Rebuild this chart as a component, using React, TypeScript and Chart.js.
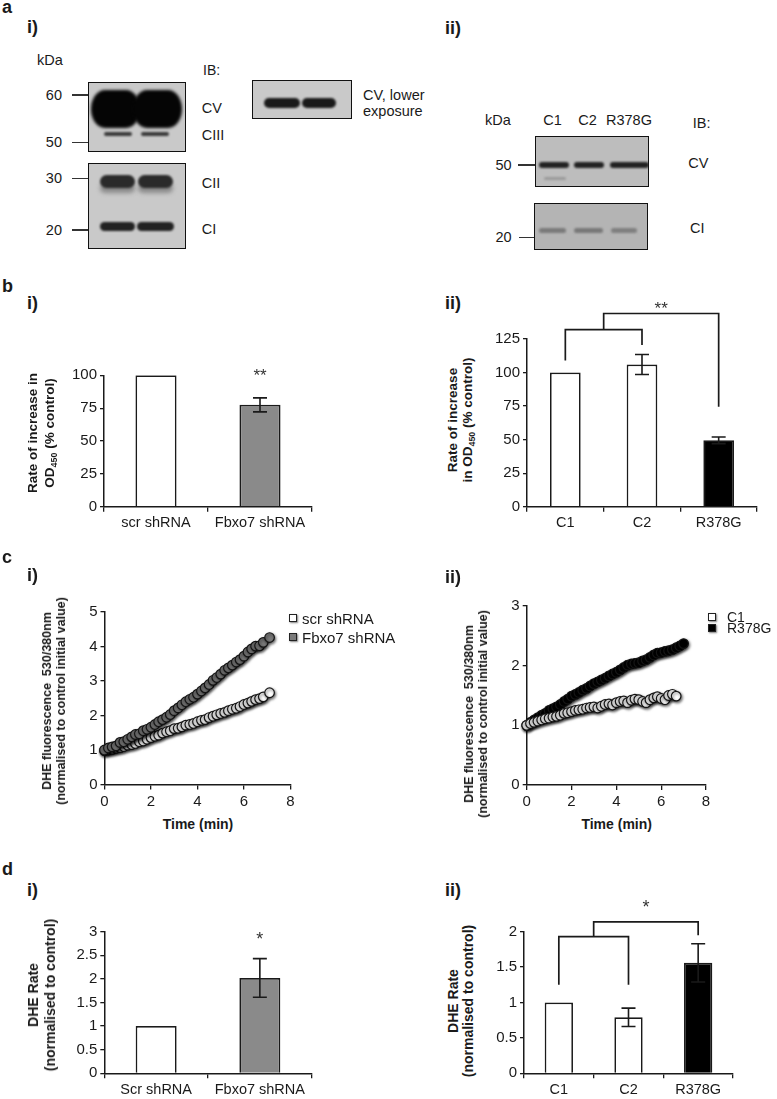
import React, { useEffect, useRef } from 'react';
import { Chart, registerables } from 'chart.js';

Chart.register(...registerables);

const FONT = '"Liberation Sans", Arial, Helvetica, sans-serif';
const INK = '#1a1a1a';

// ---------------- data ----------------
const B1_CATS = ['scr shRNA', 'Fbxo7 shRNA'];
const B1_VALUES = [100, 77.5];
const B1_ERRORS = [0, 5.3];
const B1_COLORS = ['#ffffff', '#8a8a8a'];

const B2_CATS = ['C1', 'C2', 'R378G'];
const B2_VALUES = [100, 106, 49.5];
const B2_ERRORS = [0, 7.5, 2.5];
const B2_COLORS = ['#ffffff', '#ffffff', '#000000'];

const D1_CATS = ['Scr shRNA', 'Fbxo7 shRNA'];
const D1_VALUES = [1, 2.02];
const D1_ERRORS = [0, 0.41];
const D1_COLORS = ['#ffffff', '#8a8a8a'];

const D2_CATS = ['C1', 'C2', 'R378G'];
const D2_VALUES = [1, 0.79, 1.56];
const D2_ERRORS = [0, 0.13, 0.27];
const D2_COLORS = ['#ffffff', '#ffffff', '#000000'];

const CI_TIME = [0, 0.17, 0.33, 0.5, 0.67, 0.83, 1.0, 1.17, 1.33, 1.5, 1.67, 1.83, 2.0, 2.17, 2.33, 2.5, 2.67, 2.83, 3.0, 3.17, 3.33, 3.5, 3.67, 3.83, 4.0, 4.17, 4.33, 4.5, 4.67, 4.83, 5.0, 5.17, 5.33, 5.5, 5.67, 5.83, 6.0, 6.17, 6.33, 6.5, 6.67, 6.83, 7.1];
const CI_SCR = [0.98, 1.0, 1.02, 1.05, 1.07, 1.1, 1.14, 1.16, 1.19, 1.24, 1.26, 1.31, 1.36, 1.4, 1.43, 1.49, 1.53, 1.56, 1.62, 1.63, 1.67, 1.72, 1.74, 1.77, 1.82, 1.86, 1.88, 1.94, 1.98, 2.02, 2.06, 2.09, 2.14, 2.18, 2.21, 2.26, 2.32, 2.36, 2.41, 2.46, 2.49, 2.54, 2.66];
const CI_FBXO7 = [1.0, 1.06, 1.09, 1.12, 1.22, 1.24, 1.31, 1.38, 1.45, 1.47, 1.56, 1.6, 1.66, 1.74, 1.82, 1.88, 1.95, 2.03, 2.14, 2.22, 2.31, 2.4, 2.47, 2.53, 2.62, 2.71, 2.8, 2.9, 3.02, 3.1, 3.2, 3.31, 3.38, 3.46, 3.55, 3.62, 3.72, 3.84, 3.93, 4.01, 4.02, 4.12, 4.26];

const CII_TIME = [0, 0.17, 0.33, 0.5, 0.67, 0.83, 1.0, 1.17, 1.33, 1.5, 1.67, 1.83, 2.0, 2.17, 2.33, 2.5, 2.67, 2.83, 3.0, 3.17, 3.33, 3.5, 3.67, 3.83, 4.0, 4.17, 4.33, 4.5, 4.67, 4.83, 5.0, 5.17, 5.33, 5.5, 5.67, 5.83, 6.0, 6.17, 6.33, 6.5, 6.67, 6.83, 7.0];
const CII_C1 = [1.0, 1.03, 1.05, 1.07, 1.09, 1.11, 1.12, 1.14, 1.15, 1.17, 1.2, 1.21, 1.23, 1.25, 1.26, 1.27, 1.29, 1.3, 1.31, 1.29, 1.32, 1.35, 1.36, 1.34, 1.38, 1.4, 1.41, 1.38, 1.42, 1.44, 1.43, 1.4, 1.38, 1.43, 1.46, 1.48, 1.45, 1.43, 1.5, 1.52, 1.49];
const CII_R378G = [1.0, 1.05, 1.09, 1.13, 1.17, 1.2, 1.25, 1.28, 1.31, 1.35, 1.4, 1.44, 1.49, 1.52, 1.55, 1.59, 1.62, 1.66, 1.7, 1.73, 1.76, 1.79, 1.83, 1.86, 1.89, 1.93, 1.97, 2.01, 2.03, 2.04, 2.05, 2.08, 2.1, 2.14, 2.18, 2.21, 2.22, 2.24, 2.25, 2.27, 2.3, 2.33, 2.37];

// bracket paths as [category index, value]
const B2_BRACKETS = [
  [[0, 109], [0, 132], [1, 132], [1, 120.5]],
  [[0.5, 132], [0.5, 144], [2, 144], [2, 74.5]],
];
const D2_BRACKETS = [
  [[0, 1.25], [0, 1.93], [1, 1.93], [1, 1.25]],
  [[0.5, 1.93], [0.5, 2.14], [2, 2.14], [2, 1.95]],
];

// ---------------- helpers ----------------
type Rect = { left: number; top: number; width: number; height: number; yw: number; xh: number; pad: { left: number; top: number; right: number; bottom: number } };

function frame(x0: number, x1: number, yTop: number, yBot: number, yw = 46, pt = 12, pr = 14, xh = 28): Rect {
  const left = Math.floor(x0) - yw;
  const top = Math.floor(yTop) - pt;
  const width = Math.ceil(x1) + pr - left;
  const height = Math.ceil(yBot) + xh - top;
  return {
    left, top, width, height, yw, xh,
    pad: { left: x0 - yw - left, top: yTop - top, right: width - (x1 - left), bottom: height - xh - (yBot - top) },
  };
}

const errorBarPlugin = (errors: number[]) => ({
  id: 'errorBars',
  afterDatasetsDraw(chart: any) {
    const { ctx } = chart;
    const meta = chart.getDatasetMeta(0);
    const y = chart.scales.y;
    const vals = chart.data.datasets[0].data as number[];
    ctx.save();
    ctx.strokeStyle = INK;
    ctx.lineWidth = 1.6;
    meta.data.forEach((bar: any, i: number) => {
      const e = errors[i];
      if (!e) return;
      const yt = y.getPixelForValue(vals[i] + e);
      const yb = y.getPixelForValue(vals[i] - e);
      const x = bar.x;
      const c = 7;
      ctx.beginPath();
      ctx.moveTo(x, yt); ctx.lineTo(x, yb);
      ctx.moveTo(x - c, yt); ctx.lineTo(x + c, yt);
      ctx.moveTo(x - c, yb); ctx.lineTo(x + c, yb);
      ctx.stroke();
    });
    ctx.restore();
  },
});

type Ann = { x: number; y: number; t: string; s: number };
const annotationPlugin = (lines: number[][][], texts: Ann[]) => ({
  id: 'annot',
  afterDatasetsDraw(chart: any) {
    const { ctx } = chart;
    const { x, y } = chart.scales;
    ctx.save();
    ctx.strokeStyle = INK;
    ctx.lineWidth = 1.7;
    lines.forEach((pts) => {
      ctx.beginPath();
      pts.forEach(([cx, vy], i) => {
        const px = x.getPixelForValue(cx);
        const py = y.getPixelForValue(vy);
        if (i === 0) ctx.moveTo(px, py); else ctx.lineTo(px, py);
      });
      ctx.stroke();
    });
    ctx.fillStyle = '#333';
    ctx.textAlign = 'center';
    ctx.textBaseline = 'middle';
    texts.forEach((t) => {
      ctx.font = `${t.s}px ${FONT}`;
      ctx.fillText(t.t, x.getPixelForValue(t.x), y.getPixelForValue(t.y));
    });
    ctx.restore();
  },
});

const shadowPlugin = {
  id: 'ptShadow',
  beforeDatasetsDraw(chart: any) {
    const c = chart.ctx;
    c.save();
    c.shadowColor = 'rgba(0,0,0,0.6)';
    c.shadowBlur = 3;
    c.shadowOffsetX = 1;
    c.shadowOffsetY = 1.5;
  },
  afterDatasetsDraw(chart: any) {
    chart.ctx.restore();
  },
};

const tickFont = (s: number) => ({ family: FONT, size: s });
const plainNum = (v: any) => `${+v}`;

function yAxis(rect: Rect, max: number, step: number, fs = 15) {
  return {
    min: 0,
    max,
    ticks: { stepSize: step, font: tickFont(fs), color: INK, padding: 3, callback: plainNum },
    grid: { drawOnChartArea: false, drawTicks: true, tickLength: 4, color: INK, lineWidth: 1.3 },
    border: { color: INK, width: 1.5 },
    afterFit: (s: any) => { s.width = rect.yw; },
  };
}

function makeBar(p: {
  cats: string[]; values: number[]; errors: number[]; colors: string[];
  max: number; step: number; barPct: number; rect: Rect; lines?: number[][][]; texts?: Ann[];
}) {
  return {
    type: 'bar',
    data: {
      labels: p.cats,
      datasets: [{
        data: p.values, backgroundColor: p.colors, borderColor: INK, borderWidth: 1.7,
        borderSkipped: 'bottom', barPercentage: p.barPct, categoryPercentage: 1,
      }],
    },
    options: {
      responsive: false, maintainAspectRatio: false, animation: false, devicePixelRatio: 1,
      layout: { padding: p.rect.pad },
      plugins: { legend: { display: false }, tooltip: { enabled: false } },
      scales: {
        x: {
          type: 'category', offset: true,
          grid: { offset: true, drawOnChartArea: false, drawTicks: true, tickLength: 5, color: INK, lineWidth: 1.3 },
          border: { color: INK, width: 1.5 },
          ticks: { font: tickFont(14.5), color: INK, padding: 3, maxRotation: 0, autoSkip: false },
          afterFit: (s: any) => { s.height = p.rect.xh; },
        },
        y: yAxis(p.rect, p.max, p.step),
      },
    },
    plugins: [errorBarPlugin(p.errors), annotationPlugin(p.lines || [], p.texts || [])],
  };
}

const pts = (xs: number[], ys: number[]) => ys.map((v, i) => ({ x: xs[i], y: v }));

function makeScatter(p: { rect: Rect; max: number; sets: { data: { x: number; y: number }[]; fill: string }[] }) {
  return {
    type: 'scatter',
    data: {
      datasets: p.sets.map((s) => ({
        data: s.data, pointRadius: 4.8, pointBorderWidth: 1.2, pointBackgroundColor: s.fill,
        pointBorderColor: '#151515', showLine: false, clip: false,
      })),
    },
    options: {
      responsive: false, maintainAspectRatio: false, animation: false, devicePixelRatio: 1,
      layout: { padding: p.rect.pad },
      plugins: { legend: { display: false }, tooltip: { enabled: false } },
      scales: {
        x: {
          type: 'linear', min: 0, max: 8,
          ticks: { stepSize: 2, font: tickFont(15), color: INK, padding: 3, callback: plainNum },
          grid: { drawOnChartArea: false, drawTicks: true, tickLength: 5, color: INK, lineWidth: 1.3 },
          border: { color: INK, width: 1.5 },
          afterFit: (s: any) => { s.height = p.rect.xh; },
        },
        y: yAxis(p.rect, p.max, 1),
      },
    },
    plugins: [shadowPlugin],
  };
}

function ChartBox({ rect, config }: { rect: Rect; config: any }) {
  const ref = useRef<HTMLCanvasElement>(null);
  useEffect(() => {
    const chart = new Chart(ref.current as HTMLCanvasElement, config);
    return () => chart.destroy();
  }, []);
  return (
    <canvas
      ref={ref}
      width={rect.width}
      height={rect.height}
      style={{ position: 'absolute', left: rect.left, top: rect.top, width: rect.width, height: rect.height }}
    />
  );
}

function T({ x, y, s = 14, b = false, a = 'start', children }: any) {
  const tr = a === 'middle' ? 'translateX(-50%)' : a === 'end' ? 'translateX(-100%)' : undefined;
  return (
    <div style={{
      position: 'absolute', left: x, top: y - 0.8465 * s, fontSize: s, lineHeight: `${s}px`,
      fontWeight: b ? 700 : 400, whiteSpace: 'pre', transform: tr, color: INK,
    }}>{children}</div>
  );
}

function VT({ cx, cy, s, lh, lines }: any) {
  return (
    <div style={{
      position: 'absolute', left: cx, top: cy, transform: 'translate(-50%,-50%) rotate(-90deg)',
      fontSize: s, lineHeight: `${lh}px`, fontWeight: 700, whiteSpace: 'pre', textAlign: 'center', color: INK,
    }}>
      {lines.map((l: any, i: number) => <div key={i}>{l}</div>)}
    </div>
  );
}

const Sub = ({ children }: any) => (
  <span style={{ fontSize: '0.66em', position: 'relative', top: '0.35em' }}>{children}</span>
);

function HLine({ x1, x2, y }: any) {
  return <div style={{ position: 'absolute', left: x1, top: y - 0.75, width: x2 - x1, height: 1.5, background: '#333' }} />;
}

type BandSpec = [number, number, number, number, string, number];
function Blot({ x, y, w, h, bg, bands }: { x: number; y: number; w: number; h: number; bg: string; bands: BandSpec[] }) {
  const bw = 1.8;
  return (
    <div style={{
      position: 'absolute', left: x, top: y, width: w, height: h, boxSizing: 'border-box',
      border: `${bw}px solid #111`, background: bg, overflow: 'hidden',
    }}>
      {bands.map(([x1, x2, yc, bh, c, blur], i) => (
        <div key={i} style={{
          position: 'absolute', left: x1 - x - bw, top: yc - bh / 2 - y - bw, width: x2 - x1, height: bh,
          background: c, borderRadius: `${Math.min(bh / 2, 14)}px / ${bh / 2}px`, filter: `blur(${blur}px)`,
        }} />
      ))}
    </div>
  );
}

function Square({ cx, cy, fill }: any) {
  return <div style={{
    position: 'absolute', left: cx - 4, top: cy - 4, width: 8, height: 8, boxSizing: 'border-box',
    border: '1.2px solid #222', background: fill, boxShadow: '1px 1px 2px rgba(0,0,0,0.5)',
  }} />;
}

// ---------------- frames ----------------
const B1 = frame(104, 312, 375.3, 506.7, 46, 22, 12, 30);
const B2 = frame(527, 757, 339, 506.7, 46, 40, 14, 30);
const CI = frame(104.5, 290.5, 610, 784.5, 46, 10, 16, 30);
const CII = frame(526.7, 706, 604, 785, 46, 10, 16, 30);
const D1 = frame(104.3, 311.7, 931.7, 1073.3, 46, 30, 12, 25);
const D2 = frame(524, 733, 931.7, 1073.3, 46, 40, 14, 25);

export default function App() {
  const b1 = makeBar({ cats: B1_CATS, values: B1_VALUES, errors: B1_ERRORS, colors: B1_COLORS, max: 100, step: 25, barPct: 0.395, rect: B1, texts: [{ x: 1, y: 99.5, t: '**', s: 17 }] });
  const b2 = makeBar({ cats: B2_CATS, values: B2_VALUES, errors: B2_ERRORS, colors: B2_COLORS, max: 125, step: 25, barPct: 0.4, rect: B2, lines: B2_BRACKETS, texts: [{ x: 1.25, y: 146.8, t: '**', s: 17 }] });
  const d1 = makeBar({ cats: D1_CATS, values: D1_VALUES, errors: D1_ERRORS, colors: D1_COLORS, max: 3, step: 0.5, barPct: 0.395, rect: D1, texts: [{ x: 1, y: 2.82, t: '*', s: 18 }] });
  const d2 = makeBar({ cats: D2_CATS, values: D2_VALUES, errors: D2_ERRORS, colors: D2_COLORS, max: 2, step: 0.5, barPct: 0.406, rect: D2, lines: D2_BRACKETS, texts: [{ x: 1.25, y: 2.33, t: '*', s: 18 }] });
  const c1 = makeScatter({ rect: CI, max: 5, sets: [
    { data: pts(CI_TIME, CI_FBXO7), fill: '#7a7a7a' },
    { data: pts(CI_TIME, CI_SCR), fill: '#ffffff' },
  ] });
  const c2 = makeScatter({ rect: CII, max: 3, sets: [
    { data: pts(CII_TIME, CII_C1), fill: '#ffffff' },
    { data: pts(CII_TIME, CII_R378G), fill: '#000000' },
  ] });

  return (
    <div style={{ position: 'absolute', left: 0, top: 0, width: 777, height: 1099, background: '#fff', fontFamily: FONT, overflow: 'hidden' }}>
      {/* ---------- panel a ---------- */}
      <T x={2} y={13} s={18} b>a</T>
      <T x={27} y={33} s={18} b>i)</T>
      <T x={37} y={65} s={14.5}>kDa</T>
      <T x={203} y={75} s={14}>IB:</T>
      <T x={62} y={100} s={14.5} a="end">60</T>
      <T x={62} y={147.3} s={14.5} a="end">50</T>
      <T x={62} y={183.3} s={14.5} a="end">30</T>
      <T x={62} y={235} s={14.5} a="end">20</T>
      <HLine x1={71.7} x2={88} y={95} />
      <HLine x1={71.7} x2={88} y={142.3} />
      <HLine x1={71.7} x2={88} y={178.3} />
      <HLine x1={71.7} x2={88} y={230} />
      <Blot x={88} y={82} w={98} h={70} bg="#c9c9c9" bands={[
        [92, 141, 109.5, 38, '#050505', 1.6],
        [134, 183, 109.5, 38, '#050505', 1.6],
        [105, 133, 134.3, 4, '#3a3a3a', 0.8],
        [142, 170, 134.3, 4, '#3a3a3a', 0.8],
      ]} />
      <Blot x={88} y={163} w={98} h={86} bg="#c9c9c9" bands={[
        [101, 136, 189, 10, '#8a8a8a', 2],
        [139, 174, 189, 10, '#8a8a8a', 2],
        [101, 136, 182, 13, '#2a2a2a', 1.3],
        [139, 174, 182, 13, '#2a2a2a', 1.3],
        [101, 136, 227.5, 9, '#222', 1],
        [138, 175, 227.5, 9, '#222', 1],
      ]} />
      <T x={201.7} y={113.5} s={14.5}>CV</T>
      <T x={201.7} y={140} s={14.5}>CIII</T>
      <T x={201.7} y={188.5} s={14.5}>CII</T>
      <T x={201.7} y={234.5} s={14.5}>CI</T>
      <Blot x={252} y={80} w={100} h={39} bg="#c9c9c9" bands={[
        [265, 301, 104, 10, '#1a1a1a', 1.1],
        [303, 337, 104, 10, '#1a1a1a', 1.1],
      ]} />
      <T x={363} y={100} s={14.5}>CV, lower</T>
      <T x={363} y={116.5} s={14.5}>exposure</T>

      <T x={445} y={34} s={18} b>ii)</T>
      <T x={485} y={125} s={14.5}>kDa</T>
      <T x={552.5} y={125} s={14.5} a="middle">C1</T>
      <T x={587.5} y={125} s={14.5} a="middle">C2</T>
      <T x={629} y={125} s={14.5} a="middle">R378G</T>
      <T x={692.7} y={128} s={14.5}>IB:</T>
      <T x={511.7} y={170} s={14.5} a="end">50</T>
      <T x={511.7} y={242.3} s={14.5} a="end">20</T>
      <HLine x1={518.3} x2={535} y={165} />
      <HLine x1={519} x2={534.3} y={237.3} />
      <Blot x={535} y={136} w={114} h={51} bg="#bdbdbd" bands={[
        [540, 570, 165.7, 6, '#222', 0.9],
        [575, 605, 165.7, 6, '#222', 0.9],
        [611, 650, 165.7, 6, '#222', 0.9],
        [545, 567, 179, 3, '#9a9a9a', 1],
      ]} />
      <Blot x={534} y={203} w={114} h={47} bg="#b4b4b4" bands={[
        [540, 567, 231.7, 5, '#7a7a7a', 1],
        [575, 604, 231.7, 5, '#787878', 1],
        [612, 638, 231.7, 5, '#7f7f7f', 1],
      ]} />
      <T x={688.3} y={168.5} s={14.5}>CV</T>
      <T x={690} y={233.5} s={14.5}>CI</T>

      {/* ---------- panel b ---------- */}
      <T x={2} y={292} s={18} b>b</T>
      <T x={27} y={309} s={18} b>i)</T>
      <T x={445} y={309.5} s={18} b>ii)</T>
      <ChartBox rect={B1} config={b1} />
      <ChartBox rect={B2} config={b2} />
      <VT cx={41.5} cy={433} s={13.5} lh={17} lines={['Rate of increase in', <>OD<Sub>450</Sub> (% control)</>]} />
      <VT cx={460.5} cy={420} s={13.5} lh={15} lines={['Rate of increase', <>in OD<Sub>450</Sub> (% control)</>]} />

      {/* ---------- panel c ---------- */}
      <T x={2} y={563} s={18} b>c</T>
      <T x={27} y={581} s={18} b>i)</T>
      <T x={445} y={583} s={18} b>ii)</T>
      <ChartBox rect={CI} config={c1} />
      <ChartBox rect={CII} config={c2} />
      <VT cx={53.5} cy={701} s={12.5} lh={14} lines={['DHE fluorescence  530/380nm', '(normalised to control initial value)']} />
      <VT cx={476} cy={714} s={12.5} lh={14} lines={['DHE fluorescence  530/380nm', '(normalised to control initial value)']} />
      <T x={198} y={829} s={14} b a="middle">Time (min)</T>
      <T x={616.7} y={829} s={14} b a="middle">Time (min)</T>
      <Square cx={293} cy={618} fill="#ffffff" />
      <Square cx={293} cy={637} fill="#7a7a7a" />
      <T x={302} y={623.4} s={15}>scr shRNA</T>
      <T x={302} y={642.4} s={15}>Fbxo7 shRNA</T>
      <Square cx={712.3} cy={617.3} fill="#ffffff" />
      <Square cx={712.3} cy={628} fill="#000000" />
      <T x={727} y={622.3} s={14}>C1</T>
      <T x={727} y={633} s={14}>R378G</T>

      {/* ---------- panel d ---------- */}
      <T x={2} y={875} s={18} b>d</T>
      <T x={27} y={896} s={18} b>i)</T>
      <T x={445} y={896} s={18} b>ii)</T>
      <ChartBox rect={D1} config={d1} />
      <ChartBox rect={D2} config={d2} />
      <VT cx={41.5} cy={995} s={14} lh={17} lines={['DHE Rate', '(normalised to control)']} />
      <VT cx={460.8} cy={1000.8} s={14} lh={15} lines={['DHE Rate', '(normalised to control)']} />
    </div>
  );
}
